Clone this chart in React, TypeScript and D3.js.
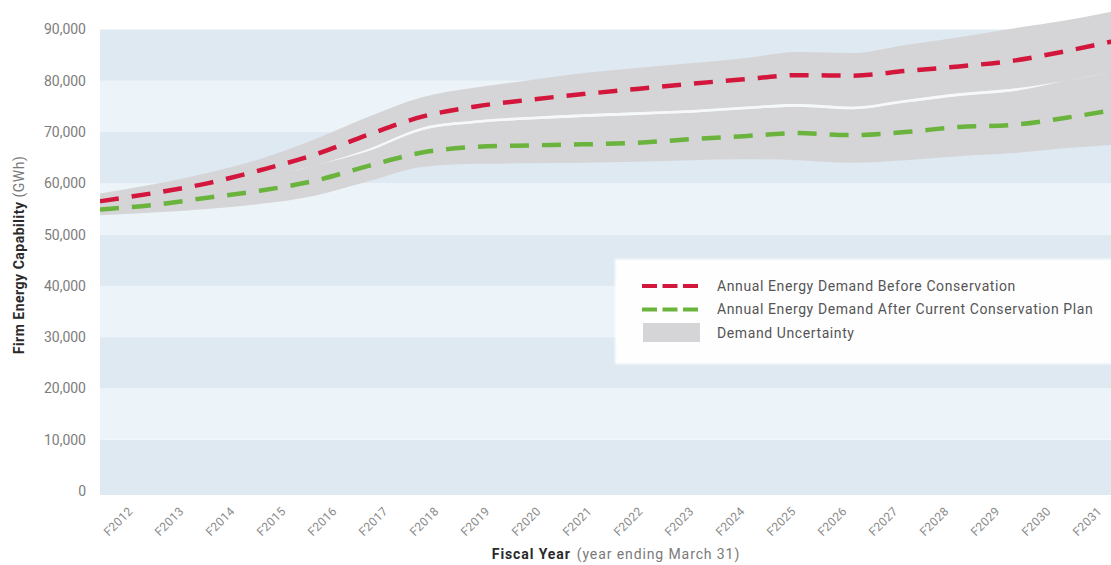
import React from "react";
import * as d3 from "d3";

// Fiscal years on the horizontal axis
const years = [
  "F2012", "F2013", "F2014", "F2015", "F2016", "F2017", "F2018", "F2019", "F2020", "F2021",
  "F2022", "F2023", "F2024", "F2025", "F2026", "F2027", "F2028", "F2029", "F2030", "F2031",
];

// Annual energy demand before conservation (GWh)
const beforeConservation = [
  56500, 58100, 60000, 62600, 65600, 69500, 73000, 75000, 76300, 77400,
  78400, 79400, 80300, 81100, 81000, 81900, 82800, 83900, 85800, 88000,
];

// Annual energy demand after the current conservation plan (GWh)
const afterConservation = [
  54900, 55800, 57200, 58600, 60500, 63400, 66000, 67100, 67400, 67600,
  67900, 68600, 69200, 69800, 69400, 70000, 71000, 71400, 72800, 74500,
];

// Uncertainty range around the pre-conservation forecast
const upperBandHigh = [
  58000, 59800, 62000, 64800, 68600, 73000, 76800, 78700, 80100, 81500,
  82500, 83400, 84400, 85600, 85400, 87000, 88500, 90200, 91800, 93800,
];
const upperBandLow = [
  55200, 56500, 58100, 60100, 62500, 66700, 70850, 72250, 72950, 73450,
  73850, 74250, 74950, 75450, 74950, 76250, 77550, 78450, 79400, 80000,
];

// Uncertainty range around the post-conservation forecast
const lowerBandHigh = [
  56200, 57500, 59100, 61100, 63500, 66300, 70350, 71750, 72450, 72950,
  73350, 73750, 74450, 74950, 74450, 75750, 77050, 77950, 80000, 82000,
];
const lowerBandLow = [
  53800, 54300, 55000, 56000, 57600, 60400, 63200, 63800, 63900, 64000,
  64200, 64500, 64700, 64500, 64000, 64500, 65300, 65900, 66900, 67600,
];

const yTicks = [0, 10000, 20000, 30000, 40000, 50000, 60000, 70000, 80000, 90000];

const legendItems = [
  "Annual Energy Demand Before Conservation",
  "Annual Energy Demand After Current Conservation Plan",
  "Demand Uncertainty",
];

const W = 1111;
const H = 565;
const plotLeft = 100;
const plotRight = 1120;
const FONT = "Roboto, 'DejaVu Sans', sans-serif";

const RED = "#d3173c";
const GREEN = "#6ab33d";
const BAND = "#d5d5d7";

export default function App() {
  const y = d3.scaleLinear().domain([0, 90000]).range([491, 29.5]);
  const x = d3.scalePoint<string>().domain(years).range([plotLeft, plotRight]);
  const xBand = d3.scaleBand<string>().domain(years).range([plotLeft, plotRight]);

  const idx = years.map((_, i) => i);
  const curve = d3.curveMonotoneX;

  const line = (vals: number[]) =>
    d3.line<number>().x((i) => x(years[i])!).y((i) => y(vals[i])).curve(curve)(idx) || "";

  const area = (lo: number[], hi: number[]) =>
    d3.area<number>().x((i) => x(years[i])!).y0((i) => y(lo[i])).y1((i) => y(hi[i])).curve(curve)(idx) || "";

  const gapTop = upperBandLow.map((v, i) => Math.max(v, lowerBandHigh[i]));

  // alternating horizontal stripes between gridlines
  const stripes = d3.pairs(yTicks).map(([a, b], i) => ({ a, b, dark: i % 2 === 0 }));

  return (
    <svg width={W} height={H} style={{ position: "absolute", left: 0, top: 0, background: "#fff" }}>
      <defs>
        <clipPath id="plot-clip">
          <rect x={plotLeft} y={0} width={plotRight - plotLeft} height={495} />
        </clipPath>
        <filter id="soft" x="-5%" y="-20%" width="110%" height="140%">
          <feGaussianBlur stdDeviation="1.2" />
        </filter>
      </defs>

      {stripes.map((s, i) => (
        <rect
          key={i}
          x={plotLeft}
          y={y(s.b)}
          width={plotRight - plotLeft}
          height={y(s.a) - y(s.b) + (s.a === 0 ? 4 : 0)}
          fill={s.dark ? "#dee9f2" : "#edf4f9"}
        />
      ))}

      <g clipPath="url(#plot-clip)">
        <path d={area(upperBandLow, upperBandHigh)} fill={BAND} />
        <path d={area(lowerBandLow, lowerBandHigh)} fill={BAND} />
        <path d={area(lowerBandHigh, gapTop)} fill="#f6f8fa" />
        <path
          d={line(afterConservation)}
          fill="none"
          stroke={GREEN}
          strokeWidth={4.5}
          strokeDasharray="19 13"
        />
        <path
          d={line(beforeConservation)}
          fill="none"
          stroke={RED}
          strokeWidth={4.5}
          strokeDasharray="19 13"
        />
      </g>

      {/* y axis tick labels */}
      {yTicks.map((t) => (
        <text
          key={t}
          x={86}
          y={y(t)}
          dy="0.35em"
          textAnchor="end"
          fontFamily={FONT}
          fontSize={14}
          fill="#7d7d7d"
        >
          {d3.format(",")(t)}
        </text>
      ))}

      {/* x axis tick labels */}
      {years.map((yr) => {
        const cx = xBand(yr)! + xBand.bandwidth() / 2 + 8;
        return (
          <text
            key={yr}
            transform={`translate(${cx},${512}) rotate(-45)`}
            textAnchor="end"
            fontFamily={FONT}
            fontSize={12}
            letterSpacing={0.3}
            fill="#8a8a8a"
          >
            {yr}
          </text>
        );
      })}

      {/* axis titles */}
      <text x={616} y={559} textAnchor="middle" fontFamily={FONT} fontSize={14} letterSpacing={0.9}>
        <tspan fontWeight="bold" fill="#2a2a2a">Fiscal Year</tspan>
        <tspan fill="#7a7a7a" dx={6}>(year ending March 31)</tspan>
      </text>
      <text
        transform="translate(24,255) rotate(-90)"
        textAnchor="middle"
        fontFamily={FONT}
        fontSize={14}
        letterSpacing={0.5}
      >
        <tspan fontWeight="bold" fill="#2a2a2a">Firm Energy Capability</tspan>
        <tspan fill="#7a7a7a" dx={4}>(GWh)</tspan>
      </text>

      {/* legend */}
      <g>
        <rect x={615} y={259} width={520} height={105} fill="#fefefe" filter="url(#soft)" />
        {legendItems.map((label, i) => {
          const ly = 286 + i * 23.5;
          return (
            <g key={label}>
              {i === 0 && (
                <line x1={642} x2={700} y1={ly} y2={ly} stroke={RED} strokeWidth={4} strokeDasharray="15 5.5" />
              )}
              {i === 1 && (
                <line x1={642} x2={700} y1={ly} y2={ly} stroke={GREEN} strokeWidth={4} strokeDasharray="15 5.5" />
              )}
              {i === 2 && <rect x={643} y={ly - 10} width={57} height={19} fill={BAND} />}
              <text
                x={717}
                y={ly}
                dy="0.35em"
                fontFamily={FONT}
                fontSize={14}
                letterSpacing={0.6}
                fill="#555"
              >
                {label}
              </text>
            </g>
          );
        })}
      </g>
    </svg>
  );
}
